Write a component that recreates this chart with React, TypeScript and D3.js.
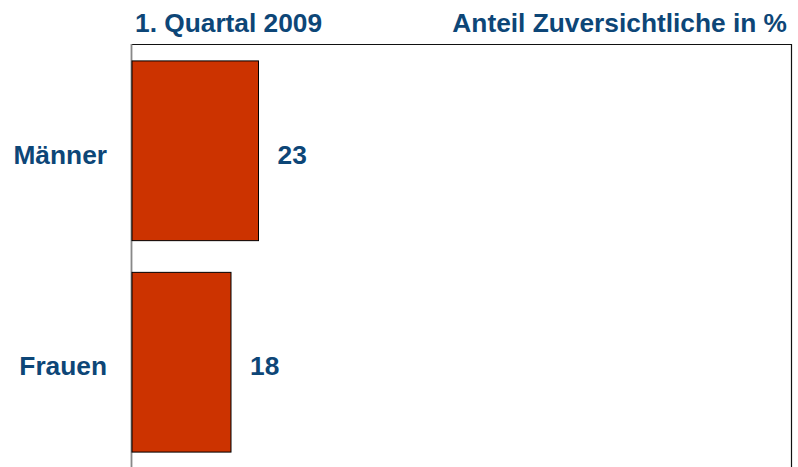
import React from 'react';
import * as d3 from 'd3';

const categories = ['Männer', 'Frauen'];
const values = [23, 18];
const periodLabel = '1. Quartal 2009';
const unitLabel = 'Anteil Zuversichtliche in %';

const width = 798;
const height = 467;
const margin = { top: 44, right: 6, bottom: -2, left: 132 };
const font = '"Liberation Sans", Arial, sans-serif';
const textColor = '#0d4677';
const fontSize = 26.3;

const App = () => {
    const x = d3.scaleLinear()
        .domain([0, 120])
        .range([margin.left, width - margin.right]);

    const y = d3.scaleBand<string>()
        .domain(categories)
        .range([margin.top, height - margin.bottom])
        .paddingInner(0.15)
        .paddingOuter(0.08);

    return (
        <svg width={width} height={height} style={{ position: 'absolute', left: 0, top: 0 }}>
            <rect x={0} y={0} width={width} height={height} fill="#fff" />
            {/* frame */}
            <path
                d={`M${x(0) - 0.5},${height + 5} V${margin.top + 0.5} H${x(120) - 0.5} V${height + 5}`}
                fill="none"
                stroke="#111"
                strokeWidth={1.2}
            />
            <line x1={x(0) - 0.5} x2={x(0) - 0.5} y1={margin.top} y2={height} stroke="#888" strokeWidth={1.5} />

            {categories.map((c, i) => (
                <g key={c}>
                    <rect
                        x={x(0)}
                        y={y(c)}
                        width={x(values[i]) - x(0)}
                        height={y.bandwidth()}
                        fill="#cc3300"
                        stroke="#000"
                        strokeWidth={1}
                    />
                    <text
                        x={107}
                        y={(y(c) ?? 0) + y.bandwidth() / 2 + 13}
                        textAnchor="end"
                        fontFamily={font}
                        fontWeight="bold"
                        fontSize={fontSize}
                        fill={textColor}
                    >{c}</text>
                    <text
                        x={x(values[i]) + 19}
                        y={(y(c) ?? 0) + y.bandwidth() / 2 + 13}
                        fontFamily={font}
                        fontWeight="bold"
                        fontSize={fontSize}
                        fill={textColor}
                    >{values[i]}</text>
                </g>
            ))}

            <text x={135} y={32} fontFamily={font} fontWeight="bold" fontSize={fontSize} fill={textColor}>{periodLabel}</text>
            <text x={787} y={32} textAnchor="end" fontFamily={font} fontWeight="bold" fontSize={fontSize} fill={textColor}>{unitLabel}</text>
        </svg>
    );
};

export default App;
